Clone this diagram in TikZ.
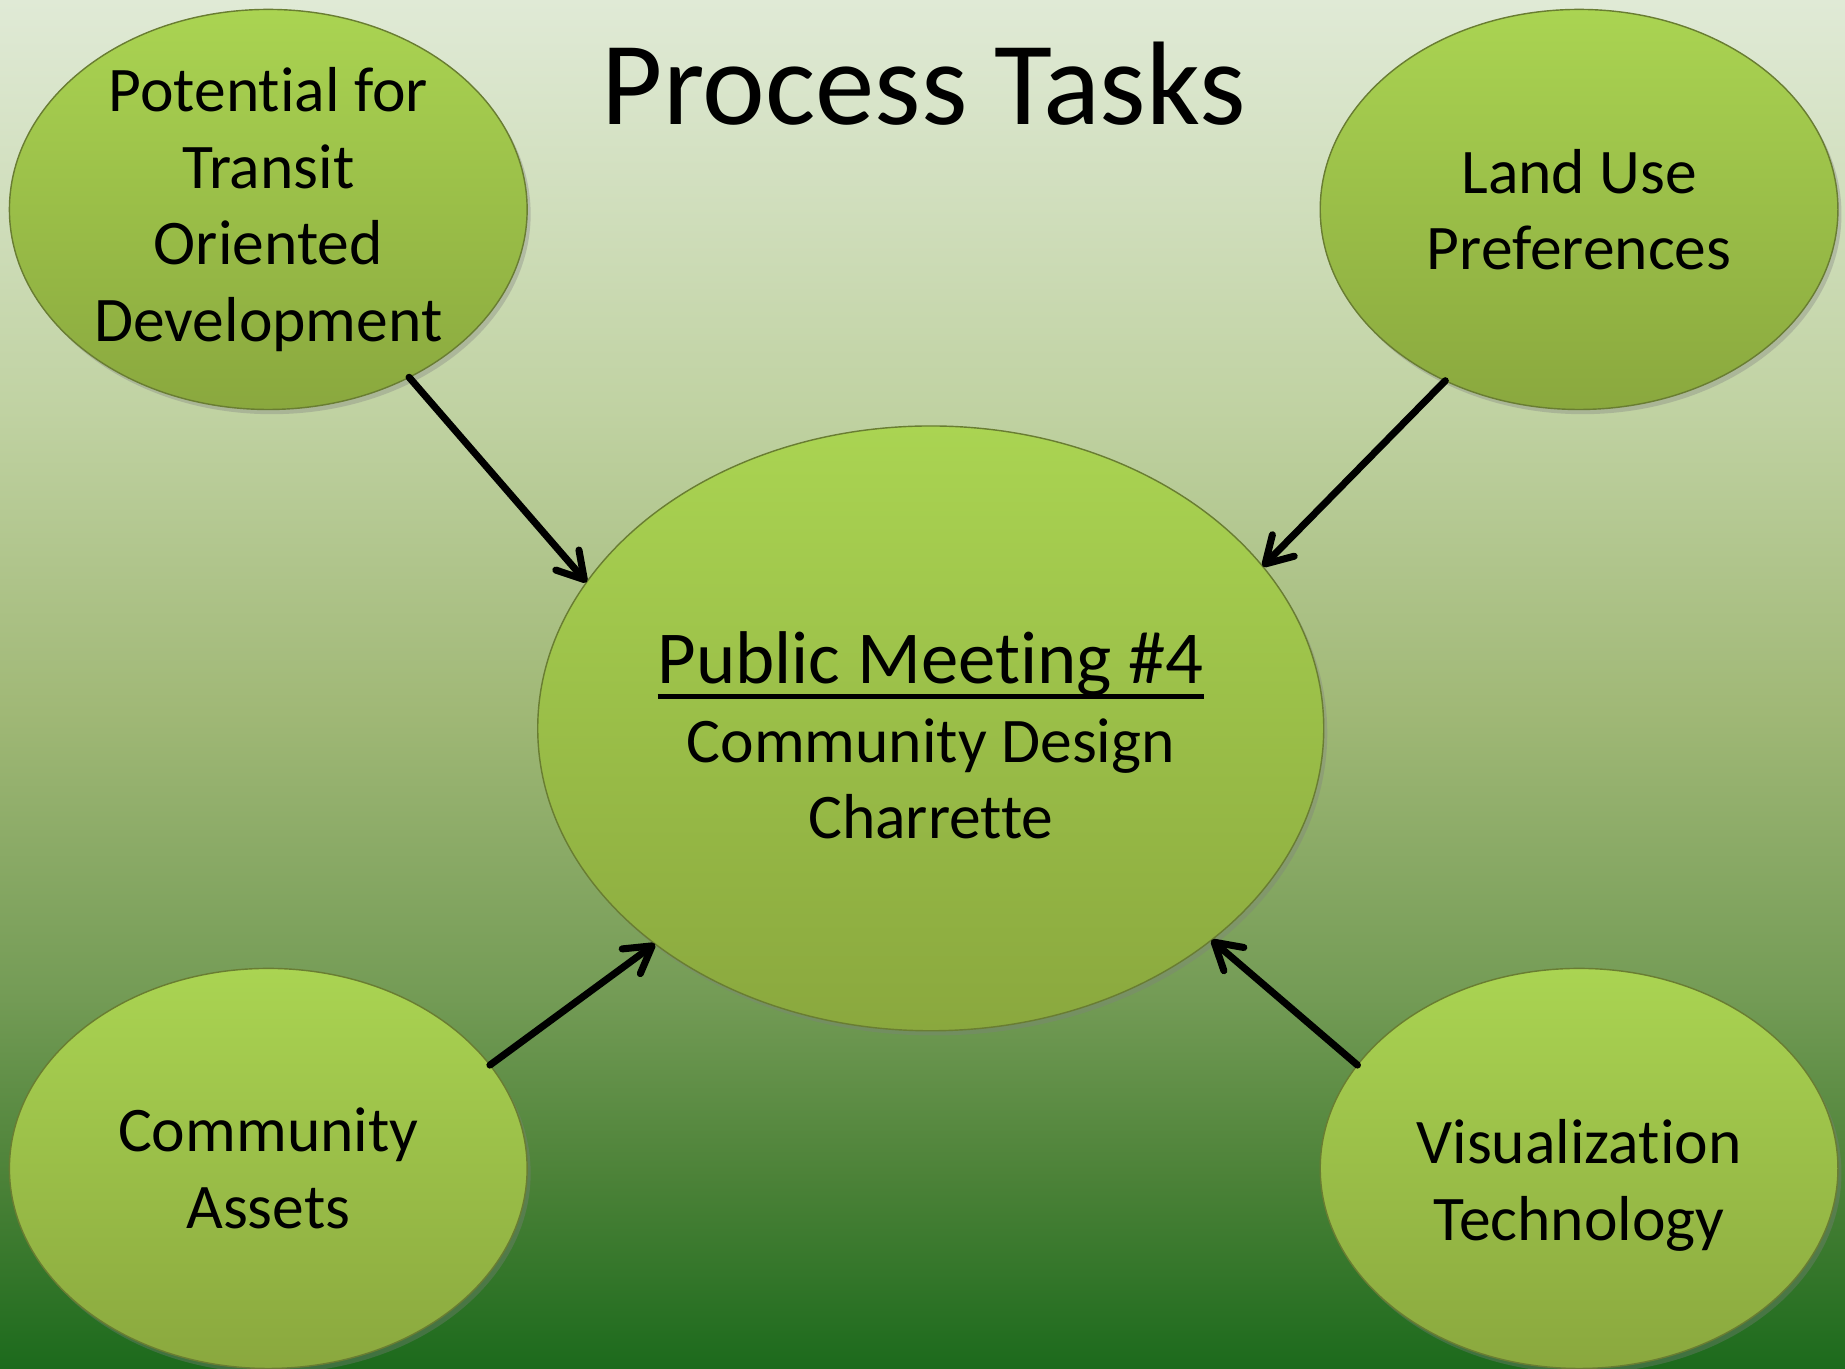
\documentclass[tikz,border=0pt]{standalone}
\usepackage{fontspec}
\setmainfont{Carlito}[Ligatures=NoCommon]
\usepackage{xcolor}
\usepackage{tikz}
\usetikzlibrary{arrows.meta,shapes.geometric,shadows}

\definecolor{bgtop}{RGB}{224,234,214}
\definecolor{bgup}{RGB}{192,210,162}
\definecolor{bgmid}{RGB}{160,184,118}
\definecolor{bglow}{RGB}{115,155,85}
\definecolor{bgdeep}{RGB}{76,130,56}
\definecolor{bgbot}{RGB}{28,106,28}
\definecolor{balltop}{RGB}{170,212,82}
\definecolor{ballbot}{RGB}{138,168,62}
\definecolor{balledge}{RGB}{105,125,50}

\pgfdeclareverticalshading{backdrop}{100bp}{color(0bp)=(bgbot); color(25bp)=(bgbot);
  color(32bp)=(bgdeep); color(38.5bp)=(bglow); color(49bp)=(bgmid);
  color(60bp)=(bgup); color(75bp)=(bgtop); color(100bp)=(bgtop)}

\newcommand{\pmunder}[1]{\setbox0=\hbox{#1}\rlap{\rule[-6.5pt]{\wd0}{2pt}}\box0}

\begin{document}
\begin{tikzpicture}[x=0.5pt,y=-0.5pt,
    task/.style={ellipse, top color=balltop, bottom color=ballbot, draw=balledge,
      line width=0.6pt, inner xsep=0pt, inner ysep=-3pt, outer sep=0pt, align=center,
      font=\fontsize{27}{32.5}\selectfont, minimum width=220pt, minimum height=170pt,
      drop shadow={opacity=0.35, shadow xshift=1.5pt, shadow yshift=-2pt}},
    feed/.style={line width=3pt, line cap=round, -{Straight Barb[length=11pt,width=13pt,round]}}]
    \useasboundingbox (0,0) rectangle (1568,1163);
    \fill[shading=backdrop] (0,0) rectangle (1568,1163);

    \node (title) at (785,71) {\fontsize{50.5}{60}\selectfont Process Tasks};

    \node[task] (TOD) at (228,178) {Potential for\\Transit\\Oriented\\Development};
    \node[task] (LU) at (1342,178) {Land Use\\Preferences};
    \node[task] (CA) at (228,993) {Community\\Assets};
    \node[task] (VT) at (1342,993) {\rule{0pt}{33pt}Visualization\\Technology};
    \node[task, minimum width=334pt, minimum height=257pt] (PM) at (791,619)
      {{\fontsize{31.75}{36}\selectfont\rule{0pt}{28pt}\pmunder{Public Meeting \#4}}\\[1pt]Community Design\\Charrette};

    \draw[feed] (TOD.-50) to (PM.157);
    \draw[feed] (LU.232) to (PM.26);
    \draw[feed] (CA.25) to (PM.218);
    \draw[feed] (VT.155) to (PM.-37);
  \end{tikzpicture}
\end{document}
